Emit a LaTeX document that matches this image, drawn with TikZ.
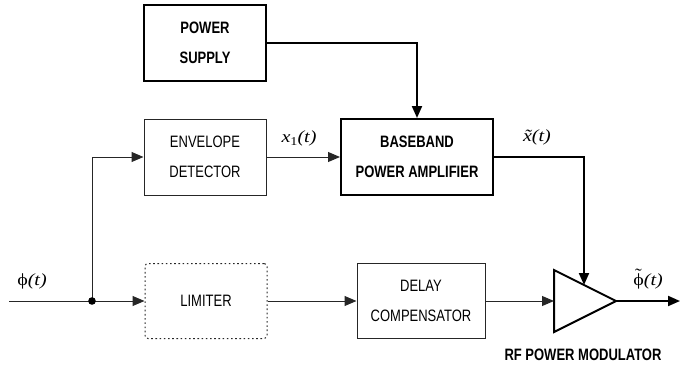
\documentclass[tikz,border=0pt]{standalone}
\usepackage{fontspec}
\usepackage{graphicx}
\setmainfont{Liberation Serif}
\newfontfamily\arialf{Liberation Sans}
\usetikzlibrary{arrows.meta}
\newcommand\tl[1]{\scalebox{1}[1.27]{#1}}
\newcommand\widelbl[1]{\scalebox{1.18}[1]{#1}}
\newcommand\tildephi{\ooalign{ϕ\cr\hidewidth\raisebox{4.5pt}{\char"02DC}\hidewidth\cr}}
\tikzset{
  thinline/.style={line width=1pt, draw=black!85},
  thickline/.style={line width=2pt, draw=black},
  arr/.style={-{Triangle[length=12pt,width=10pt]}},
  boxlabel/.style={font=\arialf\fontsize{13}{30}\selectfont, align=center},
  plainbox/.style={rectangle, thinline, boxlabel, inner sep=0pt},
  boldbox/.style={rectangle, thickline, boxlabel, font=\arialf\bfseries\fontsize{13}{30}\selectfont, inner sep=0pt},
  dotbox/.style={rectangle, line width=1pt, draw=black!85, dash pattern=on 1.6pt off 2.6pt, rounded corners=3pt, boxlabel, inner sep=0pt},
  sig/.style={font=\fontsize{17}{17}\selectfont, inner sep=0pt}
}
\begin{document}
\begin{tikzpicture}[x=1pt,y=-1pt]
\useasboundingbox (0,0) rectangle (680,367);
% boxes
\node[boldbox, minimum width=122pt, minimum height=76pt] (ps) at (205,43) {\tl{POWER}\\\tl{SUPPLY}};
\node[plainbox, minimum width=122pt, minimum height=76pt] (env) at (205,157) {\tl{ENVELOPE}\\\tl{DETECTOR}};
\node[boldbox, minimum width=152pt, minimum height=76pt] (bb) at (417,157) {\tl{BASEBAND}\\\tl{POWER AMPLIFIER}};
\node[dotbox, minimum width=122pt, minimum height=75pt] (lim) at (206,301) {\tl{LIMITER}};
\node[plainbox, minimum width=128pt, minimum height=75pt] (del) at (421,301) {\tl{DELAY}\\\tl{COMPENSATOR}};
% amplifier triangle
\coordinate (ampin) at (554,301);
\coordinate (ampout) at (616,301);
\coordinate (amptop) at (554,270);
\coordinate (ampbot) at (554,332);
\coordinate (ampctl) at (584,285);
\draw[line width=2pt, line join=miter] (amptop) -- (ampout) -- (ampbot) -- cycle;
\node[font=\arialf\bfseries\fontsize{13}{13}\selectfont, inner sep=0pt] (rfl) at (583,355) {\tl{RF POWER MODULATOR}};
% coordinates
\coordinate (in) at (9,301);
\coordinate (split) at (92,301);
\coordinate (up) at (92,157);
\coordinate (out) at (680,301);
\coordinate (pscorner) at (417,43);
\coordinate (bbcorner) at (584,157);
% connectors
\draw[thinline] (in) -- (split);
\draw[thinline, arr] (split) -- (lim.west);
\draw[thinline, arr] (split) -- (up) -- (env.west);
\draw[thinline, arr] (env.east) -- (bb.west);
\draw[thinline, arr] (lim.east) -- (del.west);
\draw[thinline, arr] (del.east) -- (ampin);
\draw[thickline, arr] (ps.east) -- (pscorner) -- (bb.north);
\draw[thickline, arr] (bb.east) -- (bbcorner) -- (ampctl);
\draw[thickline, arr] (ampout) -- (out);
\fill (split) circle (3.8pt);
% signal labels
\node[sig] (phi) at (32,281) {\widelbl{ϕ\textit{(t)}}};
\node[sig] (xi) at (299,138) {\widelbl{\textit{x}\raisebox{-3.5pt}{\fontsize{12}{12}\selectfont 1}\textit{(t)}}};
\node[sig] (xt) at (537,137) {\widelbl{\textit{\~{x}(t)}}};
\node[sig] (pt) at (648,281) {\widelbl{\tildephi\textit{(t)}}};
\end{tikzpicture}
\end{document}
